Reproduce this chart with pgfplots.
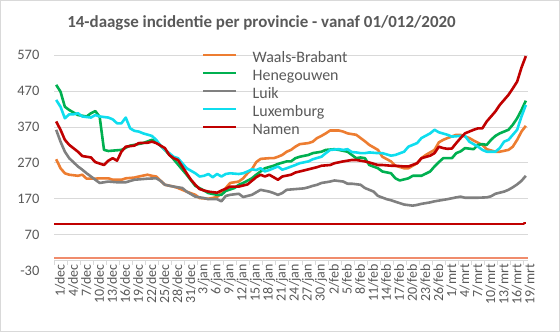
\documentclass[border=0pt]{standalone}
\usepackage{pgfplots}
\pgfplotsset{compat=1.18}
\usepackage{fontspec}
\setmainfont{Carlito}
\definecolor{cWB}{HTML}{ED7D31}
\definecolor{cHE}{HTML}{00B050}
\definecolor{cLU}{HTML}{808080}
\definecolor{cLX}{HTML}{0FDDEE}
\definecolor{cNA}{HTML}{C00000}
\definecolor{cSA}{HTML}{F08C6C}
\definecolor{txt}{HTML}{595959}
\definecolor{grd}{HTML}{D9D9D9}
\begin{document}
\begin{tikzpicture}[x=1bp,y=1bp]
\useasboundingbox (0,0) rectangle (560,332);
\draw[color=grd,line width=0.75bp] (0.4,0.4) rectangle (559.6,331.6);
\node[text=txt,font=\fontsize{17}{20}\selectfont\bfseries] at (261.5,309) {14-daagse incidentie per provincie - vanaf 01/012/2020};
\begin{axis}[
  at={(54bp,61.3bp)}, anchor=south west,
  scale only axis, width=474bp, height=215.7bp,
  xmin=-0.5, xmax=108.5, ymin=-30, ymax=570,
  axis x line=middle, axis y line=left,
  axis line style={-},
  x axis line style={draw=grd, line width=0.75bp},
  y axis line style={draw=none},
  ytick={70,170,270,370,470,570},
  yticklabels={70,170,270,370,470,570},
  extra y ticks={-30}, extra y tick labels={-30},
  extra y tick style={grid=none},
  ymajorgrids, grid style={draw=grd, line width=0.75bp},
  ytick style={draw=none},
  yticklabel style={font=\fontsize{14.5}{16}\selectfont, text=txt, xshift=-9bp},
  xtick={0,3,...,108},
  xticklabels={1/dec,4/dec,7/dec,10/dec,13/dec,16/dec,19/dec,22/dec,25/dec,28/dec,31/dec,3/jan,6/jan,9/jan,12/jan,15/jan,18/jan,21/jan,24/jan,27/jan,30/jan,2/feb,5/feb,8/feb,11/feb,14/feb,17/feb,20/feb,23/feb,26/feb,1/mrt,4/mrt,7/mrt,10/mrt,13/mrt,16/mrt,19/mrt},
  xtick style={draw=none},
  xticklabel style={font=\fontsize{14}{15}\selectfont, text=txt, rotate=90, anchor=east, inner sep=2bp, yshift=-4bp},
  extra x ticks={-0.5,2.5,...,107.5}, extra x tick labels={},
  extra x tick style={xtick style={draw=grd, line width=0.75bp}, major tick length=5bp, tick align=outside},
  legend style={at={(axis description cs:0.312,1.015)}, anchor=north west, draw=none, fill=none,
    inner sep=0pt, row sep=3bp,
    font=\fontsize{16}{18}\selectfont, text=txt,
    nodes={inner xsep=0pt, inner ysep=0pt, text height=11bp, text depth=4bp, anchor=west}},
  legend cell align=left,
  legend image code/.code={\draw[#1, line width=2.6bp] (0bp,4.5bp) -- (33bp,4.5bp); \path (48bp,0bp);},
  every axis plot/.append style={line width=2.6bp, line join=round},
]
\addplot[cWB] coordinates {(0,280)(1,255)(2,241)(3,237)(5,234)(6,237)(7,226)(9,226)(10,227)(12,227)(13,223)(15,223)(16,227)(18,229)(19,232)(21,237)(22,234)(23,232)(25,209)(27,204)(28,200)(30,190)(32,181)(33,172)(35,170)(37,175)(38,186)(39,200)(40,214)(42,218)(43,227)(44,241)(45,252)(46,272)(47,281)(49,283)(50,283)(51,287)(52,292)(53,301)(54,306)(55,315)(56,322)(58,325)(59,329)(60,339)(61,345)(62,352)(63,360)(65,360)(66,357)(67,352)(68,350)(69,348)(70,339)(71,330)(72,320)(74,306)(75,287)(77,274)(78,262)(80,255)(81,255)(83,269)(84,283)(85,292)(87,306)(88,327)(89,334)(90,339)(92,348)(93,348)(95,339)(96,332)(98,320)(99,308)(101,301)(102,301)(104,306)(105,315)(106,334)(107,357)(108,373)};
\addlegendentry{Waals-Brabant}
\addplot[cHE] coordinates {(0,487)(1,468)(2,426)(3,417)(5,403)(7,399)(8,408)(9,414)(10,398)(11,306)(12,303)(15,306)(17,318)(18,320)(20,325)(22,334)(23,329)(25,306)(27,280)(30,237)(32,206)(34,193)(35,186)(37,181)(38,181)(39,192)(41,200)(42,209)(43,214)(45,227)(46,237)(47,246)(48,255)(50,262)(51,267)(53,274)(54,274)(55,283)(56,287)(58,292)(59,297)(61,301)(62,306)(64,308)(65,306)(67,301)(68,292)(69,283)(70,285)(71,283)(72,264)(74,255)(75,246)(77,241)(78,227)(79,221)(81,227)(82,234)(84,234)(86,246)(87,260)(88,272)(89,283)(91,283)(92,297)(93,302)(94,311)(96,308)(97,320)(98,322)(99,320)(100,334)(101,345)(102,352)(104,362)(105,376)(106,394)(107,417)(108,443)};
\addlegendentry{Henegouwen}
\addplot[cLU] coordinates {(0,362)(1,329)(2,301)(3,283)(5,260)(6,251)(7,241)(9,223)(10,214)(12,218)(14,216)(16,216)(18,223)(21,226)(23,227)(24,220)(25,209)(27,204)(29,200)(30,190)(32,176)(34,172)(35,169)(37,169)(38,163)(39,178)(40,181)(42,184)(43,175)(45,181)(46,188)(47,195)(49,190)(50,186)(51,181)(52,186)(53,195)(55,197)(57,199)(58,202)(59,206)(60,209)(61,214)(63,218)(64,221)(66,218)(67,212)(68,212)(70,209)(71,200)(73,190)(74,178)(76,169)(77,166)(79,158)(80,154)(82,151)(83,153)(84,156)(86,160)(87,163)(89,167)(90,169)(92,174)(93,176)(94,173)(97,173)(99,174)(100,177)(101,184)(103,190)(104,195)(105,202)(106,210)(107,220)(108,234)};
\addlegendentry{Luik}
\addplot[cLX] coordinates {(0,445)(1,426)(2,394)(3,405)(4,405)(5,408)(6,399)(8,396)(9,403)(10,399)(12,396)(13,391)(14,380)(15,380)(16,396)(17,366)(18,359)(19,357)(20,352)(22,345)(23,334)(24,318)(25,306)(26,297)(27,287)(28,283)(29,269)(30,255)(32,241)(33,232)(34,234)(35,239)(36,230)(37,239)(38,232)(39,239)(40,241)(42,239)(43,241)(44,246)(45,252)(46,250)(47,255)(48,246)(49,250)(51,260)(52,251)(53,255)(55,264)(56,269)(58,274)(59,280)(61,287)(62,297)(63,306)(65,308)(66,306)(67,308)(68,300)(69,299)(70,297)(71,297)(72,299)(74,297)(75,297)(77,290)(78,292)(80,301)(81,315)(83,325)(84,339)(86,352)(87,362)(88,355)(90,348)(91,343)(93,345)(94,345)(95,329)(97,315)(98,306)(99,301)(101,301)(102,311)(103,329)(104,334)(106,362)(107,399)(108,431)};
\addlegendentry{Luxemburg}
\addplot[cNA] coordinates {(0,385)(1,362)(2,334)(3,320)(5,301)(6,289)(8,285)(9,272)(11,264)(12,276)(13,283)(14,276)(15,301)(16,315)(18,318)(19,325)(21,326)(22,329)(23,325)(25,311)(26,292)(27,283)(28,278)(29,260)(30,241)(31,223)(32,209)(33,197)(34,193)(35,190)(37,187)(38,193)(39,198)(40,204)(42,204)(44,210)(45,220)(46,230)(47,237)(48,232)(49,237)(51,223)(52,232)(54,237)(55,243)(57,249)(58,252)(60,258)(61,262)(63,264)(64,269)(66,274)(68,278)(69,278)(70,276)(71,274)(72,271)(74,264)(75,264)(77,262)(78,262)(80,260)(81,260)(83,269)(84,283)(86,290)(87,297)(88,315)(89,311)(90,309)(91,310)(92,325)(93,339)(94,352)(96,362)(97,366)(98,366)(99,385)(100,399)(101,413)(102,431)(104,459)(105,477)(106,496)(107,535)(108,567)};
\addlegendentry{Namen}
\addplot[cNA, line width=2.2bp, forget plot] coordinates {(-0.5,100)(107.6,100)(107.6,103)(108,103)};
\addplot[cSA, line width=2.2bp, forget plot] coordinates {(-0.5,5)(108.5,5)};
\end{axis}
\end{tikzpicture}
\end{document}
